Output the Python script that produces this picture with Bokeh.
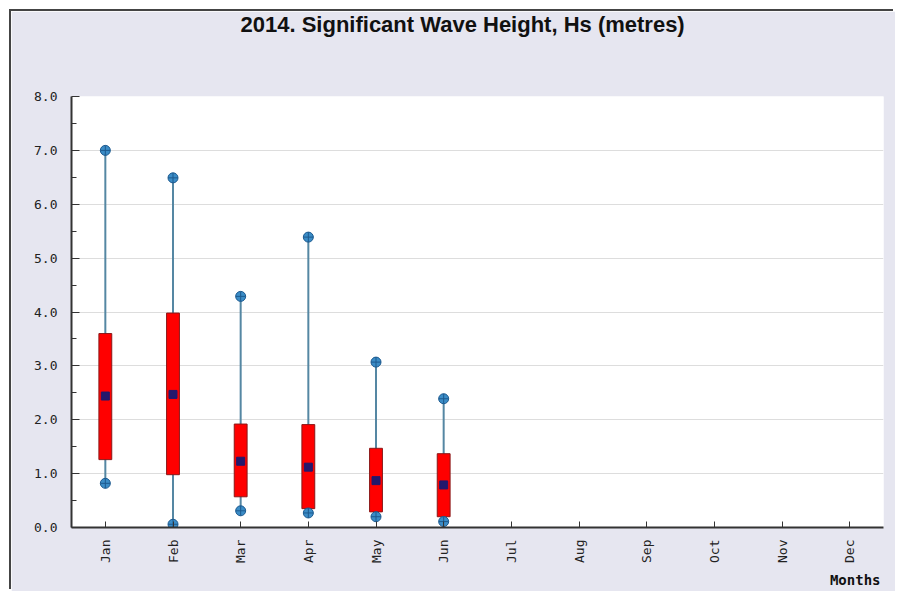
import math
from bokeh.plotting import figure
from bokeh.models import (FactorRange, Range1d, PrintfTickFormatter, FixedTicker,
                          Title, LinearAxis, CustomJSTickFormatter)
from bokeh.embed import file_html
from bokeh.resources import INLINE

# ---- data ----
months = ["Jan", "Feb", "Mar", "Apr", "May", "Jun",
          "Jul", "Aug", "Sep", "Oct", "Nov", "Dec"]
data_months = ["Jan", "Feb", "Mar", "Apr", "May", "Jun"]
hs_max = [7.0, 6.49, 4.29, 5.39, 3.07, 2.39]
hs_q3 = [3.60, 3.98, 1.92, 1.91, 1.47, 1.37]
hs_median = [2.44, 2.47, 1.23, 1.12, 0.87, 0.79]
hs_q1 = [1.26, 0.98, 0.57, 0.35, 0.29, 0.20]
hs_min = [0.82, 0.06, 0.31, 0.27, 0.20, 0.11]
y_ticks = [0, 1, 2, 3, 4, 5, 6, 7, 8]
title_text = "2014. Significant Wave Height, Hs (metres)"

BG = "#e6e6f0"
MONO = "DejaVu Sans Mono"

p = figure(width=884, height=580,
           x_range=FactorRange(factors=months, range_padding=0),
           y_range=Range1d(0, 8),
           output_backend="svg", toolbar_location=None,
           min_border_left=60, min_border_right=12, min_border_bottom=62,
           min_border_top=0)
p.styles = {"margin-left": "11px", "margin-top": "11px",
            "box-shadow": "-2px -2px 0px 0px #444444"}

p.background_fill_color = "white"
p.border_fill_color = BG
p.outline_line_color = None

# invisible spacer axis between the title and the frame
spacer = LinearAxis(ticker=FixedTicker(ticks=[0.0], minor_ticks=[]),
                    formatter=CustomJSTickFormatter(code="return ''"),
                    major_tick_out=58, major_tick_in=0, minor_tick_out=0,
                    major_label_standoff=0, major_label_text_font_size="1px",
                    major_label_text_color=BG,
                    axis_line_color=None, major_tick_line_color=BG,
                    minor_tick_line_color=None)
p.add_layout(spacer, "above")

# title (outermost, top aligned)
p.title.text = title_text
p.title.text_font = "Liberation Sans"
p.title.text_font_style = "bold"
p.title.text_font_size = "22px"
p.title.text_color = "#111111"
p.title.align = "left"
p.title.vertical_align = "top"
p.title.offset = 169
p.title.standoff = 0

# glyphs
p.segment(x0=data_months, y0=hs_min, x1=data_months, y1=hs_max,
          line_color="#5587a3", line_width=2)
p.vbar(x=data_months, width=0.19, top=hs_q3, bottom=hs_q1,
       fill_color="#ff0000", line_color="#8a1818", line_width=1)
p.scatter(x=data_months, y=hs_median, marker="square", size=8,
          fill_color="#23186c", line_color="#23186c")
p.scatter(x=data_months, y=hs_max, marker="circle_cross", size=10,
          fill_color="#3b8cc6", line_color="#1d5a8f", line_width=1)
p.scatter(x=data_months, y=hs_min, marker="circle_cross", size=10,
          fill_color="#3b8cc6", line_color="#1d5a8f", line_width=1)

# y axis
p.yaxis.ticker = FixedTicker(ticks=y_ticks,
                             minor_ticks=[v + 0.5 for v in y_ticks[:-1]])
p.yaxis.formatter = PrintfTickFormatter(format="%.1f")
p.yaxis.major_tick_in = 8
p.yaxis.major_tick_out = 0
p.yaxis.minor_tick_in = 5
p.yaxis.minor_tick_out = 0
p.yaxis.major_label_standoff = 14
p.yaxis.major_label_text_font = MONO
p.yaxis.major_label_text_font_size = "13px"
p.yaxis.major_label_text_color = "#222222"
p.yaxis.axis_line_color = "#333333"
p.yaxis.axis_line_width = 2
p.yaxis.major_tick_line_color = "#333333"
p.yaxis.minor_tick_line_color = "#333333"

# x axis (the one below)
xax = p.below[0]
xax.major_tick_in = 6
xax.major_tick_out = 0
xax.major_label_orientation = math.pi / 2
xax.major_label_standoff = 12
xax.major_label_text_font = MONO
xax.major_label_text_font_size = "13px"
xax.major_label_text_color = "#222222"
xax.axis_line_color = "#333333"
xax.axis_line_width = 2
xax.major_tick_line_color = "#333333"

p.add_layout(Title(text="Months", align="right", text_font=MONO,
                   text_font_style="bold", text_font_size="14px",
                   text_color="#111111", standoff=8, offset=3), "below")

# grid
p.xgrid.grid_line_color = None
p.ygrid.grid_line_color = "#dddddd"
p.ygrid.grid_line_width = 1

open("out.html", "w").write(file_html(p, INLINE))
